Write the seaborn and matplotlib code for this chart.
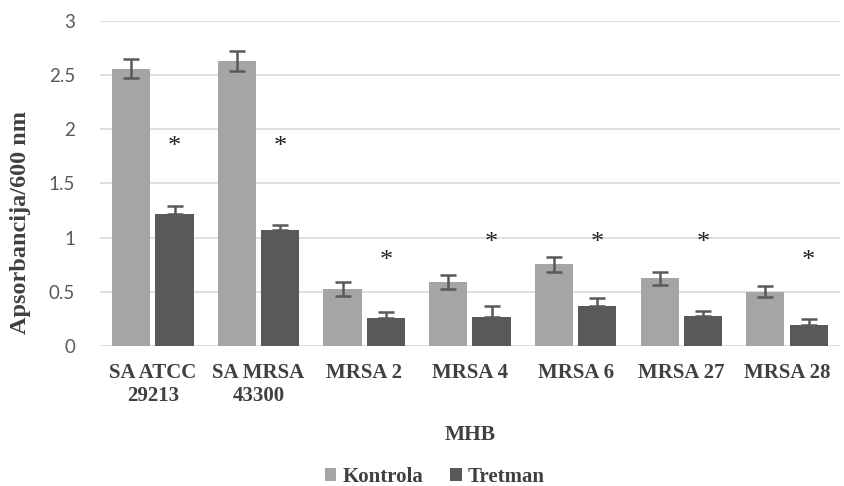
import numpy as np
import pandas as pd
import matplotlib
matplotlib.use("Agg")
import matplotlib.pyplot as plt
import seaborn as sns

categories = ["SA ATCC\n29213", "SA MRSA\n43300", "MRSA 2", "MRSA 4", "MRSA 6", "MRSA 27", "MRSA 28"]
kontrola = [2.56, 2.63, 0.53, 0.595, 0.755, 0.625, 0.50]
kontrola_err = [0.09, 0.09, 0.065, 0.065, 0.07, 0.06, 0.05]
tretman = [1.22, 1.07, 0.26, 0.27, 0.365, 0.28, 0.19]
tretman_err = [0.07, 0.05, 0.05, 0.10, 0.08, 0.04, 0.06]
star_y = [1.84, 1.84, 0.78, 0.95, 0.95, 0.95, 0.78]
series = ["Kontrola", "Tretman"]
colors = ["#a5a5a5", "#595959"]

df = pd.DataFrame({
    "cat": categories * 2,
    "val": kontrola + tretman,
    "grp": [series[0]] * len(categories) + [series[1]] * len(categories),
})

sns.set_style("white")
fig = plt.figure(figsize=(8.44, 4.86), dpi=100)
ax = fig.add_axes([0.1185, 0.288, 0.8765, 0.669])

sns.barplot(data=df, x="cat", y="val", hue="grp", palette=colors,
            width=0.82, gap=0.12, errorbar=None, ax=ax, zorder=2,
            legend=True, linewidth=0)

# error bars using the bar positions
patches = [p for p in ax.patches if p.get_height() > 0]
kp = patches[:len(categories)]
tp = patches[len(categories):2 * len(categories)]
kx = [p.get_x() + p.get_width() / 2 for p in kp]
tx = [p.get_x() + p.get_width() / 2 for p in tp]
ax.errorbar(kx, kontrola, yerr=kontrola_err, fmt="none", ecolor="#595959",
            elinewidth=1.8, capsize=5.5, capthick=1.8, zorder=3)
ax.errorbar(tx, tretman, yerr=[[0] * len(tretman), tretman_err], fmt="none",
            ecolor="#595959", elinewidth=1.8, capsize=5.5, capthick=1.8, zorder=3)
for x, y in zip(tx, star_y):
    ax.text(x, y, "*", ha="center", va="center", fontsize=19,
            family="Liberation Serif", color="#222222")

ax.set_ylim(0, 3)
ax.set_xlim(-0.5, len(categories) - 0.5)
ax.set_yticks(np.arange(0, 3.01, 0.5))
ax.set_yticklabels(["0", "0.5", "1", "1.5", "2", "2.5", "3"])
ax.yaxis.grid(True, color="#d9d9d9", linewidth=1.2, zorder=0)
ax.set_axisbelow(True)
for s in ax.spines.values():
    s.set_visible(False)
ax.tick_params(axis="both", length=0)
ax.tick_params(axis="y", labelsize=13.5, labelcolor="#595959", pad=18)
for t in ax.get_yticklabels():
    t.set_family("Lato")
ax.tick_params(axis="x", labelsize=15, labelcolor="#404040", pad=12)
for t in ax.get_xticklabels():
    t.set_family("Liberation Serif")
    t.set_fontweight("bold")

ax.set_ylabel("Apsorbancija/600 nm", family="Liberation Serif", fontweight="bold",
              fontsize=17.5, color="#404040")
ax.yaxis.set_label_coords(-0.093, 0.38)
ax.set_xlabel("MHB", family="Liberation Serif", fontweight="bold",
              fontsize=15.5, color="#404040", labelpad=14)

leg = ax.legend(loc="center", ncol=2, frameon=False,
                prop={"family": "Liberation Serif", "weight": "bold", "size": 15},
                handlelength=0.55, handleheight=0.55, handletextpad=0.3, columnspacing=1.3)
leg.set_bbox_to_anchor((435 / 844, 1 - 477 / 486), transform=fig.transFigure)
for t in leg.get_texts():
    t.set_color("#404040")

fig.savefig("out.png", dpi=100)
